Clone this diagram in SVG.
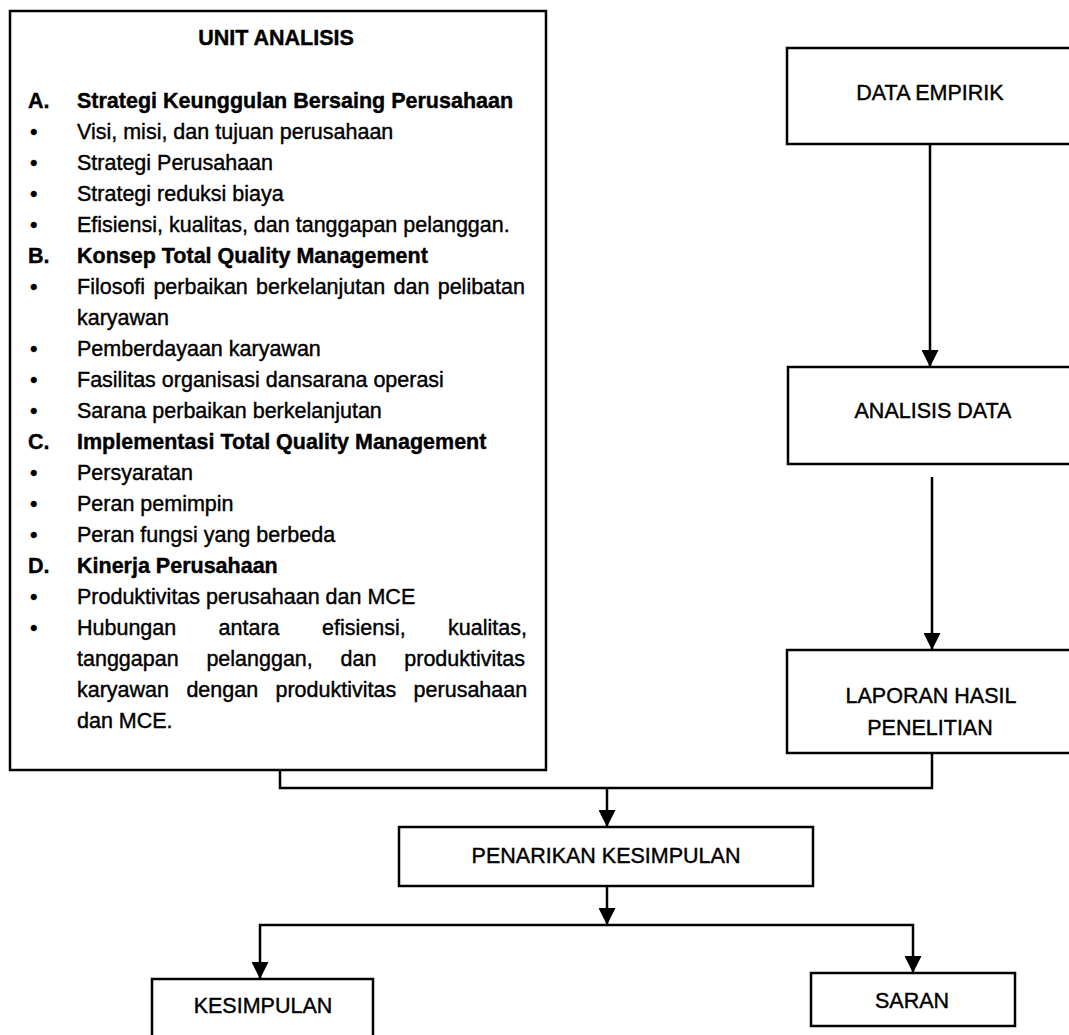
<svg xmlns="http://www.w3.org/2000/svg" width="1069" height="1035" viewBox="0 0 1069 1035">
  <style>
    .box { fill: #ffffff; stroke: #000000; stroke-width: 2.5; }
    .lbl { font-family: "Liberation Sans", Arial, sans-serif; font-size: 21.5px; fill: #000000; stroke: #000000; stroke-width: 0.4; }
    .mid { text-anchor: middle; }
    .b { font-weight: bold; }
    .wire { fill: none; stroke: #000000; stroke-width: 2.5; }
  </style>
  <defs>
    <marker id="arrow" viewBox="0 0 10 10" refX="10" refY="5" markerWidth="18" markerHeight="17" markerUnits="userSpaceOnUse" orient="auto">
      <path d="M0,0 L10,5 L0,10 z" fill="#000000"/>
    </marker>
  </defs>
  <rect x="0" y="0" width="1069" height="1035" fill="#ffffff"/>

  <!-- Unit analysis panel -->
  <g id="unit-analisis">
    <rect class="box" x="10" y="11" width="536" height="759"/>
    <text class="lbl b mid" x="276" y="45">UNIT ANALISIS</text>
    <g class="lbl">
      <text class="b" x="28" y="108">A.</text>
      <text class="b" x="77" y="108">Strategi Keunggulan Bersaing Perusahaan</text>
      <text x="30" y="139">•</text><text x="77" y="139">Visi, misi, dan tujuan perusahaan</text>
      <text x="30" y="170">•</text><text x="77" y="170">Strategi Perusahaan</text>
      <text x="30" y="201">•</text><text x="77" y="201">Strategi reduksi biaya</text>
      <text x="30" y="232">•</text><text x="77" y="232">Efisiensi, kualitas, dan tanggapan pelanggan.</text>
      <text class="b" x="28" y="263">B.</text>
      <text class="b" x="77" y="263">Konsep Total Quality Management</text>
      <text x="30" y="294">•</text>
      <text y="294"><tspan x="77">Filosofi</tspan><tspan x="153.4">perbaikan</tspan><tspan x="256.1">berkelanjutan</tspan><tspan x="393.5">dan</tspan><tspan x="437.7">pelibatan</tspan></text>
      <text x="77" y="325">karyawan</text>
      <text x="30" y="356">•</text><text x="77" y="356">Pemberdayaan karyawan</text>
      <text x="30" y="387">•</text><text x="77" y="387">Fasilitas organisasi dansarana operasi</text>
      <text x="30" y="418">•</text><text x="77" y="418">Sarana perbaikan berkelanjutan</text>
      <text class="b" x="28" y="449">C.</text>
      <text class="b" x="77" y="449">Implementasi Total Quality Management</text>
      <text x="30" y="480">•</text><text x="77" y="480">Persyaratan</text>
      <text x="30" y="511">•</text><text x="77" y="511">Peran pemimpin</text>
      <text x="30" y="542">•</text><text x="77" y="542">Peran fungsi yang berbeda</text>
      <text class="b" x="28" y="573">D.</text>
      <text class="b" x="77" y="573">Kinerja Perusahaan</text>
      <text x="30" y="604">•</text><text x="77" y="604">Produktivitas perusahaan dan MCE</text>
      <text x="30" y="635">•</text>
      <text y="635"><tspan x="77">Hubungan</tspan><tspan x="218.6">antara</tspan><tspan x="322">efisiensi,</tspan><tspan x="448">kualitas,</tspan></text>
      <text y="666"><tspan x="77">tanggapan</tspan><tspan x="206.4">pelanggan,</tspan><tspan x="340.6">dan</tspan><tspan x="404.3">produktivitas</tspan></text>
      <text y="697"><tspan x="77">karyawan</tspan><tspan x="186.4">dengan</tspan><tspan x="275.5">produktivitas</tspan><tspan x="413.6">perusahaan</tspan></text>
      <text x="77" y="728">dan MCE.</text>
    </g>
  </g>

  <!-- Process column -->
  <g id="data-empirik">
    <rect class="box" x="787" y="48" width="300" height="96"/>
    <text class="lbl mid" x="930" y="100">DATA EMPIRIK</text>
  </g>
  <g id="analisis-data">
    <rect class="box" x="788" y="367" width="300" height="97"/>
    <text class="lbl mid" x="933" y="418">ANALISIS DATA</text>
  </g>
  <g id="laporan-hasil">
    <rect class="box" x="787" y="650" width="300" height="103"/>
    <text class="lbl mid" x="931" y="703">LAPORAN HASIL</text>
    <text class="lbl mid" x="930" y="735">PENELITIAN</text>
  </g>
  <g id="penarikan-kesimpulan">
    <rect class="box" x="399" y="827" width="414" height="59"/>
    <text class="lbl mid" x="606" y="863">PENARIKAN KESIMPULAN</text>
  </g>
  <g id="kesimpulan">
    <rect class="box" x="152" y="979" width="221" height="80"/>
    <text class="lbl mid" x="263" y="1013">KESIMPULAN</text>
  </g>
  <g id="saran">
    <rect class="box" x="811" y="973" width="204" height="53"/>
    <text class="lbl mid" x="912" y="1008">SARAN</text>
  </g>

  <!-- Connectors -->
  <g id="connectors">
    <path class="wire" d="M930,144 V367" marker-end="url(#arrow)"/>
    <path class="wire" d="M932,477 V650" marker-end="url(#arrow)"/>
    <path class="wire" d="M280,770 V788 H932 V753"/>
    <path class="wire" d="M607,788 V827" marker-end="url(#arrow)"/>
    <path class="wire" d="M607,886 V925" marker-end="url(#arrow)"/>
    <path class="wire" d="M607,925 H260 V979" marker-end="url(#arrow)"/>
    <path class="wire" d="M607,925 H913 V973" marker-end="url(#arrow)"/>
  </g>
</svg>
